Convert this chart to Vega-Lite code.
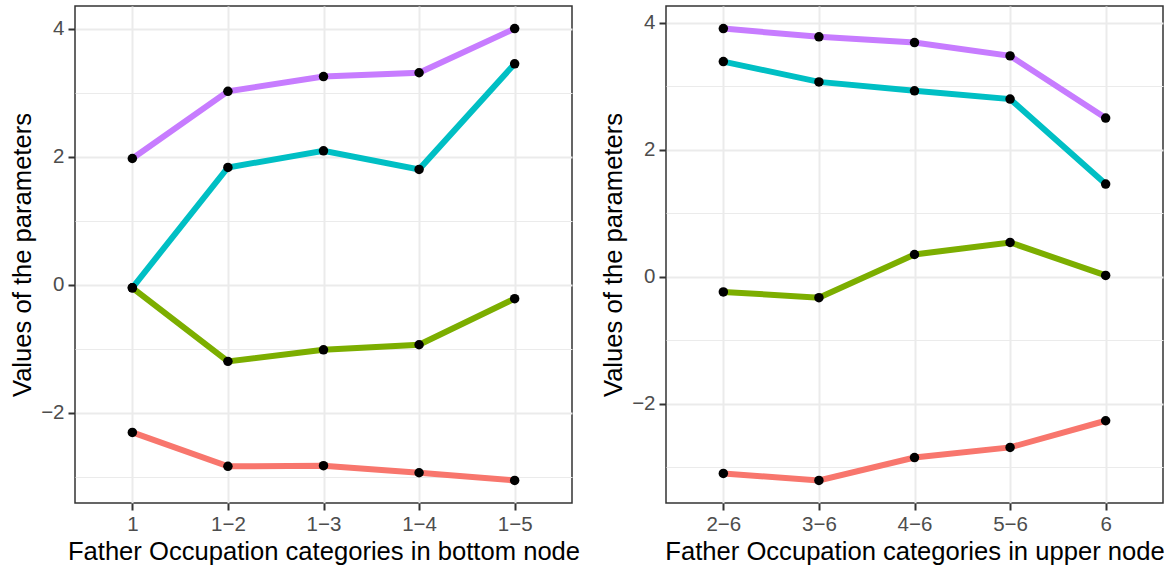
{
  "$schema": "https://vega.github.io/schema/vega-lite/v6.json",
  "padding": {"left": 9, "top": 5, "right": 0, "bottom": 0},
  "background": "white",
  "datasets": {
    "bottom": [
      {"cat": "1", "param": "a", "value": -2.31},
      {"cat": "1−2", "param": "a", "value": -2.84},
      {"cat": "1−3", "param": "a", "value": -2.83},
      {"cat": "1−4", "param": "a", "value": -2.94},
      {"cat": "1−5", "param": "a", "value": -3.06},
      {"cat": "1", "param": "b", "value": -0.05},
      {"cat": "1−2", "param": "b", "value": -1.2},
      {"cat": "1−3", "param": "b", "value": -1.02},
      {"cat": "1−4", "param": "b", "value": -0.94},
      {"cat": "1−5", "param": "b", "value": -0.22},
      {"cat": "1", "param": "c", "value": -0.05},
      {"cat": "1−2", "param": "c", "value": 1.83},
      {"cat": "1−3", "param": "c", "value": 2.09},
      {"cat": "1−4", "param": "c", "value": 1.8},
      {"cat": "1−5", "param": "c", "value": 3.45},
      {"cat": "1", "param": "d", "value": 1.97},
      {"cat": "1−2", "param": "d", "value": 3.02},
      {"cat": "1−3", "param": "d", "value": 3.25},
      {"cat": "1−4", "param": "d", "value": 3.31},
      {"cat": "1−5", "param": "d", "value": 4.0}
    ],
    "upper": [
      {"cat": "2−6", "param": "a", "value": -3.1},
      {"cat": "3−6", "param": "a", "value": -3.21},
      {"cat": "4−6", "param": "a", "value": -2.85},
      {"cat": "5−6", "param": "a", "value": -2.69},
      {"cat": "6", "param": "a", "value": -2.27},
      {"cat": "2−6", "param": "b", "value": -0.24},
      {"cat": "3−6", "param": "b", "value": -0.33},
      {"cat": "4−6", "param": "b", "value": 0.35},
      {"cat": "5−6", "param": "b", "value": 0.54},
      {"cat": "6", "param": "b", "value": 0.02},
      {"cat": "2−6", "param": "c", "value": 3.39},
      {"cat": "3−6", "param": "c", "value": 3.07},
      {"cat": "4−6", "param": "c", "value": 2.93},
      {"cat": "5−6", "param": "c", "value": 2.8},
      {"cat": "6", "param": "c", "value": 1.46},
      {"cat": "2−6", "param": "d", "value": 3.91},
      {"cat": "3−6", "param": "d", "value": 3.78},
      {"cat": "4−6", "param": "d", "value": 3.69},
      {"cat": "5−6", "param": "d", "value": 3.48},
      {"cat": "6", "param": "d", "value": 2.5}
    ]
  },
  "hconcat": [
    {
      "width": 497,
      "height": 497,
      "data": {"name": "bottom"},
      "encoding": {
        "x": {
          "field": "cat", "type": "nominal",
          "sort": ["1", "1−2", "1−3", "1−4", "1−5"],
          "scale": {"type": "point", "padding": 0.6},
          "axis": {"title": "Father Occupation categories in bottom node", "labelAngle": 0, "grid": true}
        },
        "y": {
          "field": "value", "type": "quantitative",
          "scale": {"domain": [-3.413, 4.353], "nice": false, "zero": false},
          "axis": {
            "title": "Values of the parameters",
            "values": [-3, -2, -1, 0, 1, 2, 3, 4],
            "labelExpr": "datum.value % 2 === 0 ? datum.label : ''",
            "tickOpacity": {"condition": {"test": "datum.value % 2 === 0", "value": 1}, "value": 0},
            "gridWidth": {"condition": {"test": "datum.value % 2 === 0", "value": 2}, "value": 1}
          }
        }
      },
      "layer": [
        {
          "mark": {"type": "line", "strokeWidth": 6},
          "encoding": {
            "color": {"field": "param", "type": "nominal", "scale": {"domain": ["a", "b", "c", "d"], "range": ["#F8766D", "#7CAE00", "#00BFC4", "#C77CFF"]}, "legend": null}
          }
        },
        {
          "mark": {"type": "point", "filled": true, "color": "black", "opacity": 1, "size": 90}
        }
      ]
    },
    {
      "width": 497,
      "height": 497,
      "data": {"name": "upper"},
      "encoding": {
        "x": {
          "field": "cat", "type": "nominal",
          "sort": ["2−6", "3−6", "4−6", "5−6", "6"],
          "scale": {"type": "point", "padding": 0.6},
          "axis": {"title": "Father Occupation categories in upper node", "labelAngle": 0, "grid": true}
        },
        "y": {
          "field": "value", "type": "quantitative",
          "scale": {"domain": [-3.566, 4.266], "nice": false, "zero": false},
          "axis": {
            "title": "Values of the parameters",
            "values": [-3, -2, -1, 0, 1, 2, 3, 4],
            "labelExpr": "datum.value % 2 === 0 ? datum.label : ''",
            "tickOpacity": {"condition": {"test": "datum.value % 2 === 0", "value": 1}, "value": 0},
            "gridWidth": {"condition": {"test": "datum.value % 2 === 0", "value": 2}, "value": 1}
          }
        }
      },
      "layer": [
        {
          "mark": {"type": "line", "strokeWidth": 6},
          "encoding": {
            "color": {"field": "param", "type": "nominal", "scale": {"domain": ["a", "b", "c", "d"], "range": ["#F8766D", "#7CAE00", "#00BFC4", "#C77CFF"]}, "legend": null}
          }
        },
        {
          "mark": {"type": "point", "filled": true, "color": "black", "opacity": 1, "size": 90}
        }
      ]
    }
  ],
  "spacing": 94,
  "bounds": "flush",
  "resolve": {"scale": {"y": "independent", "x": "independent"}},
  "config": {
    "font": "Liberation Sans",
    "view": {"stroke": "#333333", "strokeWidth": 1.5},
    "axis": {
      "domain": false,
      "grid": true,
      "gridColor": "#EBEBEB",
      "gridWidth": 2,
      "tickColor": "#333333",
      "tickSize": 7,
      "tickWidth": 2,
      "labelFont": "Liberation Sans",
      "labelFontSize": 20.5,
      "labelColor": "#4D4D4D",
      "labelPadding": 4,
      "titleFont": "Liberation Sans",
      "titleFontSize": 25.6,
      "titleColor": "#000000",
      "titleFontWeight": "normal",
      "titlePadding": 5
    }
  }
}
